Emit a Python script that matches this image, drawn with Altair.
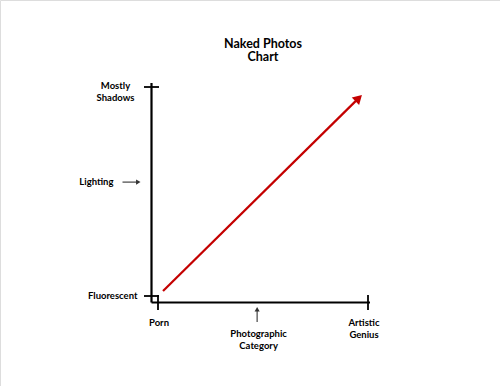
import math
import altair as alt
import pandas as pd

# ---------------- chart content ----------------
title_text = "Naked Photos\nChart"
x_ticks = [0.0, 1.0]
x_tick_labels = ["Porn", "Artistic\nGenius"]
y_ticks = [0.0, 1.0]
y_tick_labels = ["Fluorescent", "Mostly\nShadows"]
x_title = "Photographic\nCategory"
y_title = "Lighting"
trend_x = [0.024, 0.971]
trend_y = [0.024, 0.962]
x_title_at = 0.472
y_title_at = 0.545

# ---------------- layout ----------------
W, H = 500, 386
X0, XS = 158, 210   # pixel of x=0, pixels per unit
Y0, YS = 296, 209   # pixel of y=0, pixels per unit
PX, PY = 1.0 / XS, 1.0 / YS
FONT = "Lato"
RED = "#c40000"

xs = alt.Scale(domain=[-X0 / XS, (W - X0) / XS], nice=False, zero=False)
ys = alt.Scale(domain=[-(H - Y0) / YS, Y0 / YS], nice=False, zero=False)

AX = -6.5 * PX   # y-axis line position (data)
AY = -6.5 * PY   # x-axis line position (data)


def enc_pt():
    return dict(x=alt.X("x:Q", scale=xs, axis=None), y=alt.Y("y:Q", scale=ys, axis=None))


def segs(rows, color="black", width=2.0):
    df = pd.DataFrame(rows, columns=["x", "y", "x2", "y2"])
    return alt.Chart(df).mark_rule(color=color, strokeWidth=width, strokeCap="butt").encode(
        x=alt.X("x:Q", scale=xs, axis=None), y=alt.Y("y:Q", scale=ys, axis=None),
        x2="x2:Q", y2="y2:Q")


def head(x, y, shape, size, angle, color):
    df = pd.DataFrame({"x": [x], "y": [y]})
    return alt.Chart(df).mark_point(shape=shape, size=size, angle=angle, filled=True,
                                    color=color, opacity=1, strokeWidth=0).encode(**enc_pt())


def label(text, x, y, align, baseline, dx=0, dy=0, size=9.5, lh=12):
    df = pd.DataFrame({"x": [x], "y": [y], "t": [text]})
    return alt.Chart(df).mark_text(align=align, baseline=baseline, dx=dx, dy=dy, font=FONT,
                                   fontWeight="bold", fontSize=size, lineBreak="\n",
                                   lineHeight=lh, color="black").encode(text="t:N", **enc_pt())


layers = []

# axes lines
layers.append(segs([[AX, AY, AX, 1 + 4 * PY], [AX, AY, 1 + 2 * PX, AY]], width=2.2))
# ticks
tick_rows = [[t, AY - 7.5 * PY, t, AY + 7.5 * PY] for t in x_ticks]
tick_rows += [[AX - 7.5 * PX, t, AX + 7.5 * PX, t] for t in y_ticks]
layers.append(segs(tick_rows, width=1.8))

# red trend arrow
dxp = (trend_x[1] - trend_x[0]) * XS
dyp = (trend_y[1] - trend_y[0]) * YS
L = math.hypot(dxp, dyp)
ux, uy = dxp / L, dyp / L
ang = math.degrees(math.atan2(dxp, dyp))
hsize = 110
hh = math.sqrt(3) * math.sqrt(hsize) / 4  # tip distance from centre
cx = trend_x[1] - hh * ux * PX
cy = trend_y[1] - hh * uy * PY
layers.append(segs([[trend_x[0], trend_y[0], cx, cy]], color=RED, width=2.2))
layers.append(head(cx, cy, "triangle-up", hsize, ang, RED))

# small pointer arrows
GREY = "#333333"
ps = 26
ph = math.sqrt(3) * math.sqrt(ps) / 4
# y title pointer (horizontal, to the right)
tipx = AX - 11 * PX
layers.append(segs([[AX - 29 * PX, y_title_at, tipx - ph * PX, y_title_at]], color=GREY, width=1.1))
layers.append(head(tipx - ph * PX, y_title_at, "triangle-right", ps, 0, GREY))
# x title pointer (vertical, up)
tipy = AY - 4.5 * PY
layers.append(segs([[x_title_at, AY - 19.5 * PY, x_title_at, tipy - ph * PY]], color=GREY, width=1.1))
layers.append(head(x_title_at, tipy - ph * PY, "triangle-up", ps, 0, GREY))

# tick labels
layers.append(label(x_tick_labels[0], x_ticks[0], AY, "center", "top", dx=1, dy=15.5))
layers.append(label(x_tick_labels[1], x_ticks[1], AY, "center", "top", dx=-4, dy=15.5, lh=11.5))
layers.append(label(y_tick_labels[0], AX, y_ticks[0], "right", "middle", dx=-14, dy=0))
layers.append(label(y_tick_labels[1], AX, y_ticks[1], "center", "top", dx=-36, dy=-6, lh=11.5))

# axis titles
layers.append(label(y_title, AX, y_title_at, "right", "middle", dx=-38))
layers.append(label(x_title, x_title_at, AY, "center", "top", dx=1.5, dy=26.5))

# chart title
layers.append(label(title_text, 0.5, 1.0, "center", "top", dx=0, dy=-49.5, size=12.5, lh=13.5))

chart = alt.layer(*layers).properties(
    width=W, height=H, autosize=alt.AutoSizeParams(type="none"), padding=0
).configure_view(stroke=None).configure(background="white")

chart.save("out.html", embed_options={"renderer": "svg", "actions": False})
